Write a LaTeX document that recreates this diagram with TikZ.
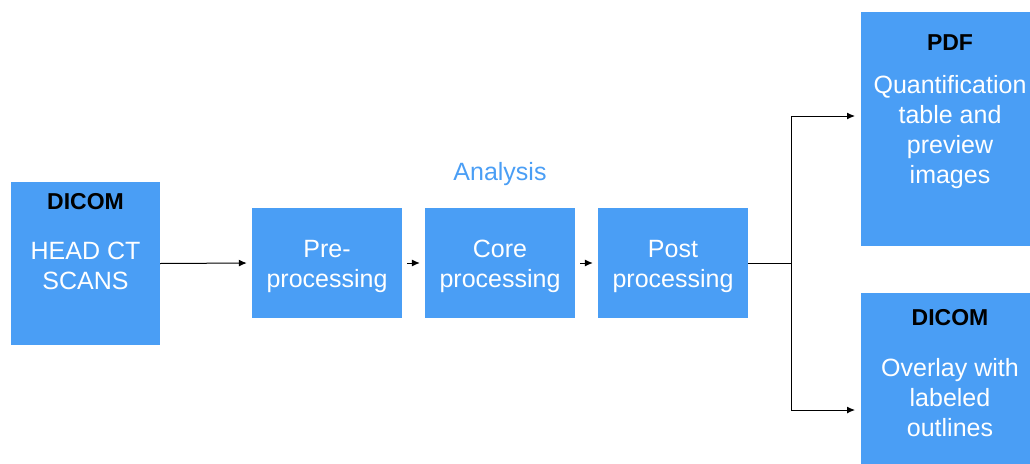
\documentclass[tikz,border=0pt]{standalone}
\usepackage{fontspec}
\setmainfont{Liberation Sans}
\usetikzlibrary{arrows.meta}
\definecolor{boxblue}{RGB}{74,158,245}

\begin{document}
\begin{tikzpicture}[x=1pt,y=-1pt,
	box/.style={fill=boxblue, draw=none, inner sep=0pt},
	txt/.style={text=white, font=\fontsize{25}{30}\selectfont, align=center},
	stage/.style={box, minimum width=150pt, minimum height=110pt, label={[txt, yshift=-3pt]center:{#1}}},
	head/.style={text=black, font=\fontsize{23}{27}\selectfont\bfseries},
	link/.style={-{Latex[length=8pt,width=7pt]}, line width=1pt}]
\clip (0,0) rectangle (1030,463);

\node[box, minimum width=149pt, minimum height=163pt] (scan) at (85.5,263.5) {};
\node[head] (scanhead) at ([yshift=-20pt]scan.north) {DICOM};
\node[txt] (scantxt) at (85.5,266) {HEAD CT\\SCANS};

\node[stage={Pre-\\processing}] (pre) at (327,263) {};
\node[stage={Core\\processing}] (core) at (500,263) {};
\node[stage={Post\\processing}] (post) at (673,263) {};
\node[text=boxblue, font=\fontsize{25}{30}\selectfont] (analysis) at (500,174) {Analysis};

\node[box, minimum width=179pt, minimum height=234pt] (pdf) at (950.5,129) {};
\node[head] (pdfhead) at (950,43) {PDF};
\node[txt] (pdftxt) at (950,132) {Quantification\\table and\\preview\\images};

\node[box, minimum width=179pt, minimum height=180pt] (dcm) at (950.5,383) {};
\node[head] (dcmhead) at (950,318) {DICOM};
\node[txt] (dcmtxt) at (950,398) {Overlay with\\labeled\\outlines};

\coordinate (fork) at (791,263);
\coordinate (topdf) at (861,116);
\coordinate (todcm) at (861,410);

\draw[link, shorten >=5pt] (scan.east) -- (pre.west);
\draw[link, shorten <=5pt, shorten >=5pt] (pre.east) -- (core.west);
\draw[link, shorten <=5pt, shorten >=5pt] (core.east) -- (post.west);
\draw[line width=1pt] (post.east) -- (fork);
\draw[link, shorten >=6pt] (fork) |- (topdf);
\draw[link, shorten >=6pt] (fork) |- (todcm);

\end{tikzpicture}
\end{document}
